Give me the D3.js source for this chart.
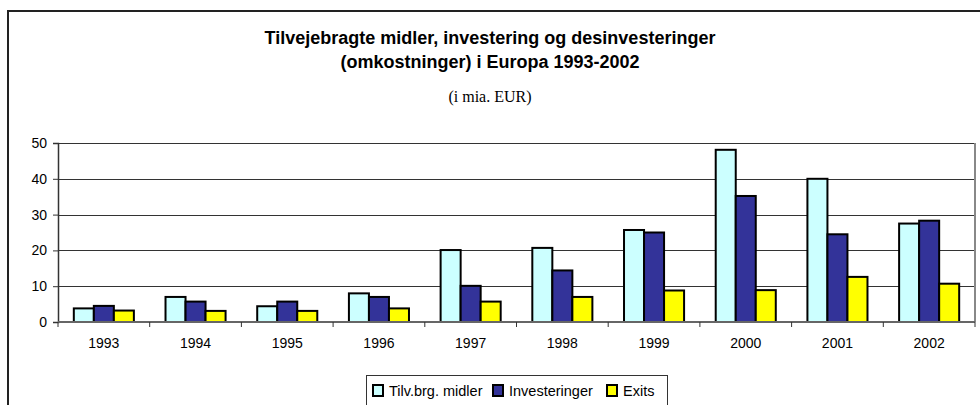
<!DOCTYPE html>
<html>
<head>
<meta charset="utf-8">
<script src="https://cdn.jsdelivr.net/npm/d3@7"></script>
<style>
	body { margin: 0; background: #fff; }
	svg { display: block; }
</style>
</head>
<body>
<svg id="chart"></svg>
<script>
const years = ["1993", "1994", "1995", "1996", "1997", "1998", "1999", "2000", "2001", "2002"];
const seriesNames = ["Tilv.brg. midler", "Investeringer", "Exits"];
const midler = [3.8, 7.0, 4.4, 8.0, 20.1, 20.7, 25.7, 48.1, 40.0, 27.5];
const investeringer = [4.5, 5.7, 5.7, 7.0, 10.1, 14.4, 25.0, 35.2, 24.5, 28.3];
const exits = [3.2, 3.1, 3.1, 3.8, 5.7, 7.0, 8.8, 8.9, 12.6, 10.7];
const yTicks = [0, 10, 20, 30, 40, 50];
const colors = ["#ccffff", "#333399", "#ffff00"];

const width = 980, height = 405;
const plot = {left: 58, right: 975, top: 143, bottom: 322};

const svg = d3.select("#chart")
	.attr("width", width)
	.attr("height", height);

// outer chart border (only left and top show in the window)
svg.append("path")
	.attr("d", `M8,${height} L8,11 L${width},11`)
	.attr("fill", "none")
	.attr("stroke", "#222")
	.attr("stroke-width", 2);

// titles
const title = svg.append("text")
	.attr("text-anchor", "middle")
	.attr("font-family", "Liberation Sans, Arial, sans-serif")
	.attr("font-weight", "bold")
	.attr("font-size", 18);
title.append("tspan").attr("x", 490).attr("y", 44).text("Tilvejebragte midler, investering og desinvesteringer");
title.append("tspan").attr("x", 490).attr("y", 68).text("(omkostninger) i Europa 1993-2002");

svg.append("text")
	.attr("x", 490).attr("y", 102)
	.attr("text-anchor", "middle")
	.attr("font-family", "Liberation Serif, Times New Roman, serif")
	.attr("font-size", 16)
	.text("(i mia. EUR)");

const data = years.map((y, i) => ({year: y, values: [midler[i], investeringer[i], exits[i]]}));

const x0 = d3.scaleBand()
	.domain(years)
	.range([plot.left, plot.right])
	.paddingInner(0.345)
	.paddingOuter(0.1725);

const x1 = d3.scaleBand()
	.domain([0, 1, 2])
	.range([0, x0.bandwidth()]);

const y = d3.scaleLinear()
	.domain([0, 50])
	.range([plot.bottom, plot.top]);

// gridlines
svg.selectAll(".grid")
	.data(yTicks.filter(t => t > 0))
	.join("line")
	.attr("class", "grid")
	.attr("x1", plot.left)
	.attr("x2", plot.right)
	.attr("y1", d => Math.round(y(d)) + 0.5)
	.attr("y2", d => Math.round(y(d)) + 0.5)
	.attr("stroke", "#333")
	.attr("stroke-width", 1);

// right border of plot
svg.append("line")
	.attr("x1", plot.right).attr("x2", plot.right)
	.attr("y1", plot.top).attr("y2", plot.bottom)
	.attr("stroke", "#888")
	.attr("stroke-width", 2);

// y axis
const yAxis = svg.append("g")
	.attr("transform", `translate(${plot.left},0)`)
	.call(d3.axisLeft(y).tickValues(yTicks).tickSize(5).tickPadding(6));
yAxis.selectAll("text")
	.attr("font-family", "Liberation Sans, Arial, sans-serif")
	.attr("font-size", 14)
	.attr("fill", "#000");
yAxis.select(".domain").attr("stroke", "#333").attr("stroke-width", 1.5);
yAxis.selectAll(".tick line").attr("stroke", "#333");

// bars
const groups = svg.selectAll(".year")
	.data(data)
	.join("g")
	.attr("class", "year")
	.attr("transform", d => `translate(${x0(d.year)},0)`);

groups.selectAll("rect")
	.data(d => d.values)
	.join("rect")
	.attr("x", (d, i) => x1(i))
	.attr("y", d => y(d))
	.attr("width", x1.bandwidth())
	.attr("height", d => y(0) - y(d))
	.attr("fill", (d, i) => colors[i])
	.attr("stroke", "#000")
	.attr("stroke-width", 2);

// x axis with ticks between categories
svg.append("line")
	.attr("x1", plot.left).attr("x2", plot.right)
	.attr("y1", plot.bottom).attr("y2", plot.bottom)
	.attr("stroke", "#666")
	.attr("stroke-width", 2);

const step = x0.step();
svg.selectAll(".xtick")
	.data(d3.range(years.length + 1))
	.join("line")
	.attr("class", "xtick")
	.attr("x1", i => plot.left + i * step)
	.attr("x2", i => plot.left + i * step)
	.attr("y1", plot.bottom)
	.attr("y2", plot.bottom + 5)
	.attr("stroke", "#333")
	.attr("stroke-width", 1);

svg.selectAll(".xlabel")
	.data(years)
	.join("text")
	.attr("class", "xlabel")
	.attr("x", d => x0(d) + x0.bandwidth() / 2)
	.attr("y", 348)
	.attr("text-anchor", "middle")
	.attr("font-family", "Liberation Sans, Arial, sans-serif")
	.attr("font-size", 14)
	.text(d => d);

// legend
const legend = svg.append("g");
legend.append("rect")
	.attr("x", 366.5).attr("y", 375.5)
	.attr("width", 301).attr("height", 40)
	.attr("fill", "#fff")
	.attr("stroke", "#333")
	.attr("stroke-width", 1);

const legendX = [373, 493, 607];
seriesNames.forEach((name, i) => {
	legend.append("rect")
		.attr("x", legendX[i]).attr("y", 385)
		.attr("width", 10).attr("height", 11)
		.attr("fill", colors[i])
		.attr("stroke", "#000")
		.attr("stroke-width", 2);
	legend.append("text")
		.attr("x", legendX[i] + 16).attr("y", 396)
		.attr("font-family", "Liberation Sans, Arial, sans-serif")
		.attr("font-size", 14.5)
		.text(name);
});
</script>
</body>
</html>
